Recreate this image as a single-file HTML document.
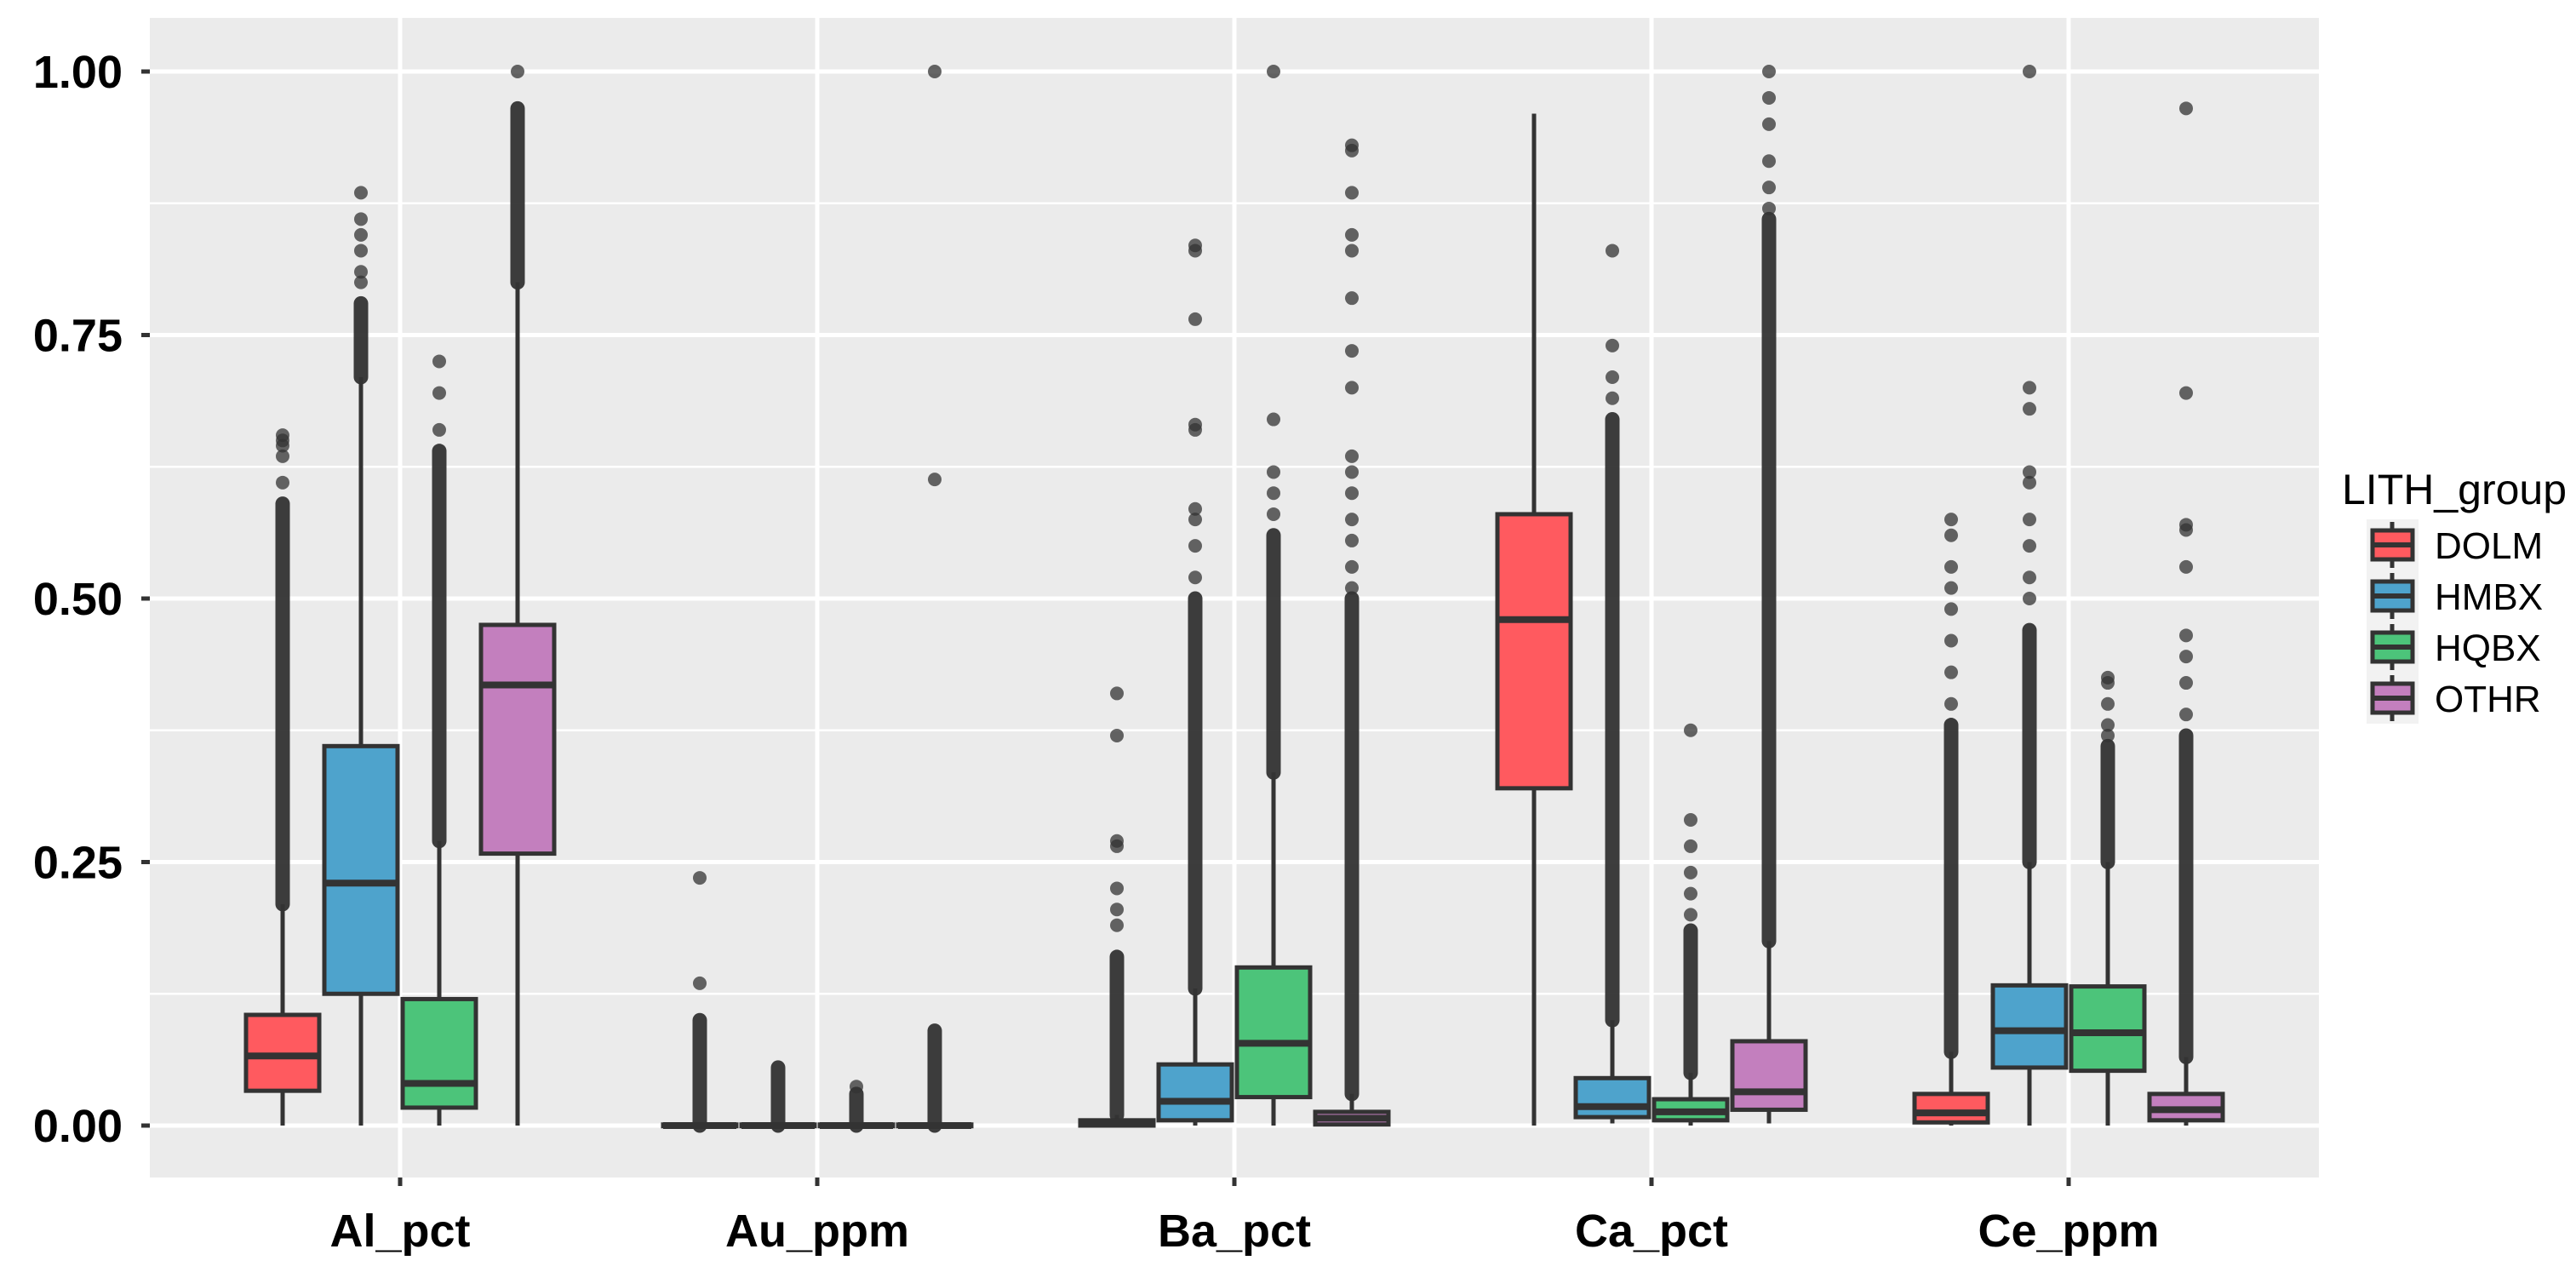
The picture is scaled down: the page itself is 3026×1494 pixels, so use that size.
<!DOCTYPE html>
<html><head><meta charset="utf-8"><style>
html,body{margin:0;padding:0;background:#fff;}
svg{display:block;}
text{font-family:"Liberation Sans",sans-serif;}
</style></head><body>
<svg id="chart" width="3026" height="1494" viewBox="0 0 3026 1494" xmlns="http://www.w3.org/2000/svg">
<rect x="176" y="21" width="2548" height="1362" fill="#ebebeb"/>
<g id="grid"></g>
<g id="marks"></g>
<g id="axes"></g>
<g>
<text x="2751" y="592" font-size="50">LITH_group</text>
<rect x="2780" y="610" width="61" height="240" fill="#f2f2f2"/>
<g id="legend"></g>
</g>
</svg>
<script>
const categories = ["Al_pct","Au_ppm","Ba_pct","Ca_pct","Ce_ppm"];
const groups = ["DOLM","HMBX","HQBX","OTHR"];
const colors = ["#FF5A5F","#4EA3CC","#4CC47A","#C37FBE"];
const yTicks = [0,0.25,0.5,0.75,1.0];
const yTickLabels = ["0.00","0.25","0.50","0.75","1.00"];
// [whiskerLow, q1, median, q3, whiskerHigh] per category per group
const stats = [
 [[0,0.033,0.066,0.105,0.21],[0,0.125,0.23,0.36,0.71],[0,0.017,0.04,0.12,0.27],[0,0.258,0.418,0.475,0.80]],
 [[0,0,0,0.001,0.002],[0,0,0,0.001,0.002],[0,0,0,0.001,0.002],[0,0,0,0.001,0.002]],
 [[0,0,0.002,0.005,0.01],[0,0.005,0.023,0.058,0.13],[0,0.027,0.078,0.15,0.335],[0,0.001,0.007,0.013,0.03]],
 [[0,0.32,0.48,0.58,0.96],[0.002,0.008,0.018,0.045,0.10],[0,0.005,0.013,0.025,0.05],[0.002,0.015,0.032,0.08,0.175]],
 [[0,0.003,0.012,0.03,0.07],[0,0.055,0.09,0.133,0.25],[0,0.052,0.088,0.132,0.25],[0,0.005,0.015,0.03,0.065]]
];
// dense outlier runs [from, to]
const denseRuns = [
 [[0.21,0.59],[0.71,0.78],[0.27,0.64],[0.80,0.965]],
 [[0,0.1],[0,0.055],[0,0.03],[0,0.09]],
 [[0.01,0.16],[0.13,0.5],[0.335,0.56],[0.03,0.5]],
 [null,[0.10,0.67],[0.05,0.185],[0.175,0.86]],
 [[0.07,0.38],[0.25,0.47],[0.25,0.36],[0.065,0.37]]
];
// sparse outliers
const outliers = [
 [[0.61,0.635,0.645,0.65,0.655],[0.80,0.81,0.83,0.845,0.86,0.885],[0.66,0.695,0.725],[1.0]],
 [[0.135,0.235],[],[0.037],[0.613,1.0]],
 [[0.19,0.205,0.225,0.265,0.27,0.37,0.41],[0.52,0.55,0.575,0.585,0.66,0.665,0.765,0.83,0.835],[0.58,0.60,0.62,0.67,1.0],[0.51,0.53,0.555,0.575,0.60,0.62,0.635,0.70,0.735,0.785,0.83,0.845,0.885,0.925,0.93]],
 [[],[0.69,0.71,0.74,0.83],[0.2,0.22,0.24,0.265,0.29,0.375],[0.87,0.89,0.915,0.95,0.975,1.0]],
 [[0.40,0.43,0.46,0.49,0.51,0.53,0.56,0.575],[0.5,0.52,0.55,0.575,0.61,0.62,0.68,0.70,1.0],[0.37,0.38,0.40,0.42,0.425],[0.39,0.42,0.445,0.465,0.53,0.565,0.57,0.695,0.965]]
];
const NS="http://www.w3.org/2000/svg";
const X0=176, STEP=490, Y0=1322, YU=1238, DODGE=92, BW=86;
const xCat=i=>X0+STEP*(0.6+i);
const xBox=(i,g)=>xCat(i)+(g-1.5)*DODGE;
const y=v=>Y0-v*YU;
function mk(tag,attrs,parent){const e=document.createElementNS(NS,tag);for(const k in attrs)e.setAttribute(k,attrs[k]);parent.appendChild(e);return e;}
const grid=document.getElementById('grid'),marks=document.getElementById('marks'),axes=document.getElementById('axes'),legend=document.getElementById('legend');
for(let k=0;k<yTicks.length-1;k++){const v=(yTicks[k]+yTicks[k+1])/2;
 const l=mk('line',{x1:176,x2:2724,y1:y(v),y2:y(v),stroke:'#fff','stroke-width':2.5},grid);
 
 }
yTicks.forEach((v,k)=>{
 const l=mk('line',{x1:176,x2:2724,y1:y(v),y2:y(v),stroke:'#fff','stroke-width':5},grid);
 
 
 const t=mk('line',{x1:166,x2:176,y1:y(v),y2:y(v),stroke:'#333','stroke-width':5},axes);
 
 
 const tx=mk('text',{x:144,y:y(v)+19,'text-anchor':'end','font-size':54,'font-weight':'bold'},axes);
 tx.textContent=yTickLabels[k];
 
 
});
categories.forEach((c,i)=>{
 const l=mk('line',{x1:xCat(i),x2:xCat(i),y1:21,y2:1383,stroke:'#fff','stroke-width':5},grid);
 
 
 const t=mk('line',{x1:xCat(i),x2:xCat(i),y1:1383,y2:1393,stroke:'#333','stroke-width':5},axes);
 
 
 const tx=mk('text',{x:xCat(i),y:1464,'text-anchor':'middle','font-size':54,'font-weight':'bold'},axes);
 tx.textContent=c;
 
 
 groups.forEach((g,j)=>{
  const s=stats[i][j], cx=xBox(i,j);
  const grp=mk('g',{},marks);
  
  
  const d=denseRuns[i][j];
  if(d){mk('line',{x1:cx,x2:cx,y1:y(d[0]),y2:y(d[1]),stroke:'#333','stroke-width':17,'stroke-linecap':'round','stroke-opacity':0.95},grp);}
  outliers[i][j].forEach(v=>{const p=mk('circle',{cx:cx,cy:y(v),r:8,fill:'#333','fill-opacity':0.75},grp);
   
   });
  mk('line',{x1:cx,x2:cx,y1:y(s[0]),y2:y(s[4]),stroke:'#333','stroke-width':5},grp);
  const h=Math.max(y(s[1])-y(s[3]),2);
  mk('rect',{x:cx-BW/2,y:y(s[3]),width:BW,height:h,fill:colors[j],stroke:'#333','stroke-width':5},grp);
  mk('line',{x1:cx-BW/2,x2:cx+BW/2,y1:y(s[2]),y2:y(s[2]),stroke:'#333','stroke-width':8},grp);
 });
});
groups.forEach((g,j)=>{
 const cy=640+60*j;
 const e=mk('g',{},legend);
 
 
 mk('line',{x1:2810,x2:2810,y1:cy-27,y2:cy+27,stroke:'#333','stroke-width':5},e);
 mk('rect',{x:2787,y:cy-17,width:47,height:34,fill:colors[j],stroke:'#333','stroke-width':5},e);
 mk('line',{x1:2787,x2:2834,y1:cy,y2:cy,stroke:'#333','stroke-width':6},e);
 const t=mk('text',{x:2860,y:cy+16,'font-size':44},e);
 t.textContent=g;
});
</script>
</body></html>
